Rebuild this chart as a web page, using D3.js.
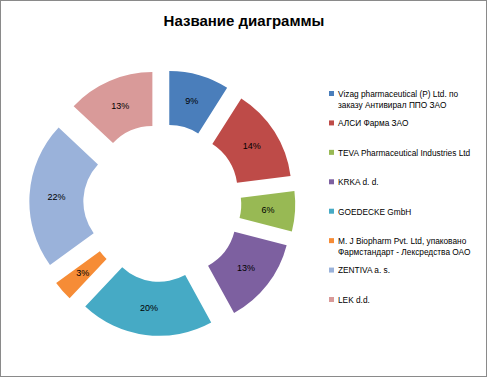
<!DOCTYPE html>
<html><head><meta charset="utf-8">
<script src="https://cdn.jsdelivr.net/npm/d3@7"></script>
<style>body{margin:0;background:#fff}</style>
</head><body>
<svg id="chart" width="487" height="377"></svg>
<script>
const categories = [
  ["Vizag pharmaceutical (P) Ltd. по", "заказу Антивирал ППО ЗАО"],
  ["АЛСИ Фарма ЗАО"],
  ["TEVA Pharmaceutical Industries Ltd"],
  ["KRKA d. d."],
  ["GOEDECKE GmbH"],
  ["M. J Biopharm Pvt. Ltd, упаковано", "Фармстандарт - Лексредства ОАО"],
  ["ZENTIVA a. s."],
  ["LEK d.d."]
];
const values = [9, 14, 6, 13, 20, 3, 22, 13];
const colors = ["#4A7EBB", "#BE4B48", "#98B954", "#7D60A0", "#46AAC5", "#F68C36", "#9AB2DA", "#D99A99"];
const title = "Название диаграммы";

const svg = d3.select("#chart");
svg.append("rect").attr("x",0.5).attr("y",0.5).attr("width",486).attr("height",376)
  .attr("fill","#fff").attr("stroke","#8a8a8a").attr("stroke-width",1);

svg.append("text").attr("x",244).attr("y",26).attr("text-anchor","middle")
  .attr("font-family","Liberation Sans, Arial, sans-serif").attr("font-weight","bold")
  .attr("font-size",15).attr("fill","#000").text(title);

const cx = 162.3, cy = 203, r1 = 108, r0 = 54, explode = 25;
const pie = d3.pie().sort(null).value(d => d);
const arcs = pie(values);
const arc = d3.arc().innerRadius(r0).outerRadius(r1);
const g = svg.append("g").attr("transform", `translate(${cx},${cy})`);
arcs.forEach((a, i) => {
  const mid = (a.startAngle + a.endAngle) / 2;
  const dx = explode * Math.sin(mid), dy = -explode * Math.cos(mid);
  const sg = g.append("g").attr("transform", `translate(${dx},${dy})`);
  sg.append("path").attr("d", arc(a)).attr("fill", colors[i]);
  const c = arc.centroid(a);
  sg.append("text").attr("x", c[0]).attr("y", c[1]).attr("dy","0.35em")
    .attr("text-anchor","middle").attr("font-family","Liberation Sans, Arial, sans-serif")
    .attr("font-size",9).attr("fill","#000").text(values[i] + "%");
});

const legendY = d3.scaleLinear().domain([0, categories.length - 1]).range([94, 300]);
const lg = svg.append("g");
categories.forEach((lines, i) => {
  const y = legendY(i);
  lg.append("rect").attr("x",329).attr("y",y-3).attr("width",5).attr("height",5).attr("fill",colors[i]);
  lines.forEach((t, j) => {
    lg.append("text").attr("x",338).attr("y",y + j*11).attr("dy","0.35em")
      .attr("font-family","Liberation Sans, Arial, sans-serif").attr("font-size",8.3)
      .attr("fill","#000").text(t);
  });
});
</script>
</body></html>
